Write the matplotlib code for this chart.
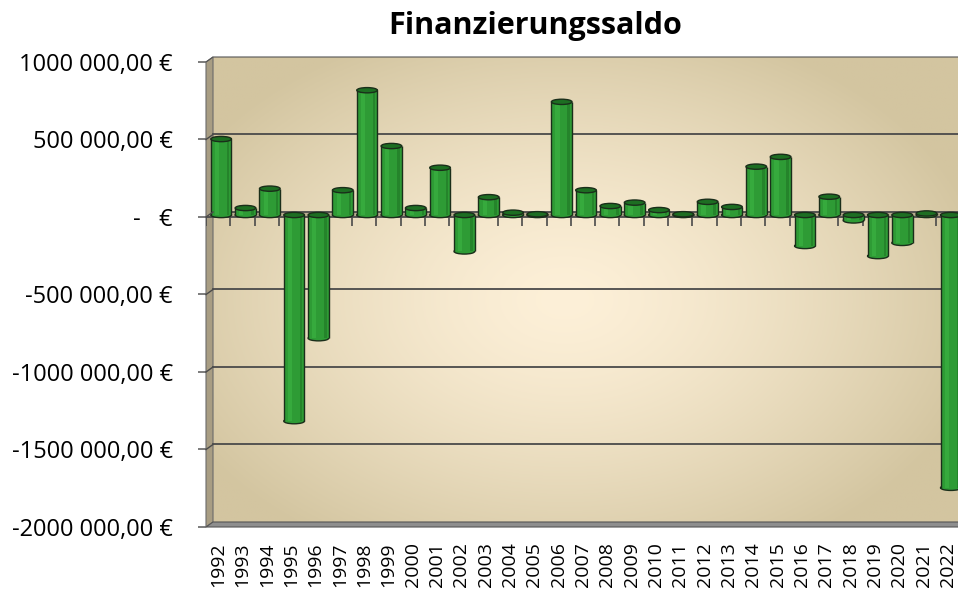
import numpy as np
import matplotlib
matplotlib.use('Agg')
import matplotlib.pyplot as plt
from matplotlib.patches import Ellipse, Polygon
from matplotlib.transforms import ScaledTranslation

plt.rcParams['font.family'] = ['Open Sans', 'DejaVu Sans']

# Data
years = [str(y) for y in range(1992, 2023)]
saldo = [490000, 45000, 170000, -1330000, -795000, 160000, 805000, 445000,
         45000, 305000, -235000, 115000, 15000, 5000, 730000, 160000,
         58000, 80000, 32000, 5000, 85000, 52000, 312000, 375000,
         -200000, 118000, -35000, -265000, -180000, 10000, -1760000]
ytick_vals = [1000000, 500000, 0, -500000, -1000000, -1500000, -2000000]
ytick_labels = ['1000 000,00 €', '500 000,00 €', '-   €', '-500 000,00 €',
                '-1000 000,00 €', '-1500 000,00 €', '-2000 000,00 €']

W, H = 958, 595
fig = plt.figure(figsize=(W / 100, H / 100), dpi=100)

# pixel geometry of the front plane
x0, x1, y_top, y_bot = 206, 960, 62, 527
dx, dy = 7, 5  # depth offset of the back wall

# background (back wall) with a radial gradient
bg = fig.add_axes([(x0 + dx) / W, 1 - (y_bot - dy) / H,
                   (x1 - x0 - dx) / W, (y_bot - y_top) / H], zorder=0)
xs = np.linspace(x0 + dx, x1, 400)
ys = np.linspace(y_top - dy, y_bot - dy, 300)
X, Y = np.meshgrid(xs, ys)
r = np.sqrt(((X - 565) / 430) ** 2 + ((Y - 300) / 290) ** 2)
t = np.clip(r, 0, 1) ** 1.4
c_in = np.array([253, 240, 216]) / 255
c_out = np.array([211, 197, 160]) / 255
img = c_in + (c_out - c_in) * t[..., None]
bg.imshow(img, aspect='auto', extent=(0, 1, 0, 1))
bg.axis('off')

ax = fig.add_axes([x0 / W, 1 - y_bot / H, (x1 - x0) / W, (y_bot - y_top) / H], zorder=1)
ax.set_facecolor('none')
n = len(years)
xpos = np.arange(n)
ax.set_xlim(-0.5, n - 0.5)
ax.set_ylim(-2000000, 1000000)

back = ax.get_yaxis_transform() + ScaledTranslation(dx / 100, dy / 100, fig.dpi_scale_trans)

# left side wall and floor
pt = fig.dpi_scale_trans
def fpx(px, py):
    return (px / 100, (H - py) / 100)
left_wall = Polygon([fpx(x0, y_top), fpx(x0 + dx, y_top - dy), fpx(x0 + dx, y_bot - dy), fpx(x0, y_bot)],
                    closed=True, facecolor='#a89d83', edgecolor='#6b6b6b', lw=0.8,
                    transform=pt, zorder=0.5)
fig.patches.append(left_wall)
floor = Polygon([fpx(x0, y_bot), fpx(x0 + dx, y_bot - dy), fpx(x1 + 5, y_bot - dy), fpx(x1 + 5, y_bot)],
                closed=True, facecolor='#8e8e8e', edgecolor='#555555', lw=0.8,
                transform=pt, zorder=0.5)
fig.patches.append(floor)
top_edge = Polygon([fpx(x0, y_top), fpx(x0 + dx, y_top - dy), fpx(x1 + 5, y_top - dy)],
                   closed=False, fill=False, edgecolor='#555555', lw=0.8, transform=pt, zorder=0.5)
fig.patches.append(top_edge)

# gridlines on back wall, with the short diagonal across the side wall
for v in [500000, -500000, -1000000, -1500000, 0]:
    ax.plot([0, 1], [v, v], transform=back, color='#4a4a4a', lw=1.3, zorder=1, clip_on=False)
    yp = ax.transData.transform((0, v))[1]
    fig.lines.append(plt.Line2D([x0 / W, (x0 + dx) / W], [yp / H, (yp + dy) / H],
                                transform=fig.transFigure, color='#4a4a4a', lw=1.0))

# zero floor plane
zp = ax.transData.transform((0, 0))[1]
fig.patches.append(Polygon([(x0 / 100, zp / 100), ((x0 + dx) / 100, (zp + dy) / 100),
                            (x1 / 100, (zp + dy) / 100), (x1 / 100, zp / 100)],
                           closed=True, facecolor='#b9ad90', edgecolor='none',
                           transform=pt, zorder=0.8))
ax.axhline(0, color='#4a4a4a', lw=1.3, zorder=2)
# category ticks at zero
tick_len = 9 / 465 * 3000000
ax.vlines(np.arange(n + 1) - 0.5, -tick_len, 0, color='#4a4a4a', lw=1.2, zorder=2)

# cylinder bars
bar_tr = ax.transData + ScaledTranslation(3 / 100, 2 / 100, fig.dpi_scale_trans)
bw = 0.85
eh = 34000
green = '#2e9b35'
dark = '#1d6e22'
edge = '#1a2e1a'
for x, v in zip(xpos, saldo):
    ax.bar(x, v, width=bw, color=green, edgecolor='none', zorder=3, transform=bar_tr)
    ax.bar(x + bw * 0.34, v, width=bw * 0.12, color='#25842b', edgecolor='none', zorder=3.1, transform=bar_tr)
    ax.bar(x - bw * 0.2, v, width=bw * 0.2, color='#36aa3d', edgecolor='none', zorder=3.1, transform=bar_tr)
    ax.vlines([x - bw / 2, x + bw / 2], min(v, 0), max(v, 0), color=edge, lw=1.0, zorder=3.5, transform=bar_tr)
    lo, hi = min(v, 0), max(v, 0)
    # rounded bottom end
    ax.add_patch(Ellipse((x, lo), bw, eh, facecolor=green, edgecolor=edge, lw=1.0, zorder=2.9, transform=bar_tr))
    # top cap
    ax.add_patch(Ellipse((x, hi), bw, eh, facecolor=dark, edgecolor=edge, lw=1.0, zorder=4, transform=bar_tr))

ax.set_yticks(ytick_vals)
ax.set_yticklabels(ytick_labels, fontsize=17)
ax.tick_params(axis='y', length=6, width=1.2, color='#666666', pad=18)
ax.set_xticks(xpos)
ax.set_xticklabels(years, rotation=90, fontsize=14, va='top')
ax.tick_params(axis='x', length=0, pad=11)
for s in ax.spines.values():
    s.set_visible(False)

fig.text(535 / W, 1 - 26 / H, 'Finanzierungssaldo', ha='center', va='center',
         fontsize=22, fontweight='bold')

fig.savefig('out.png', dpi=100)
